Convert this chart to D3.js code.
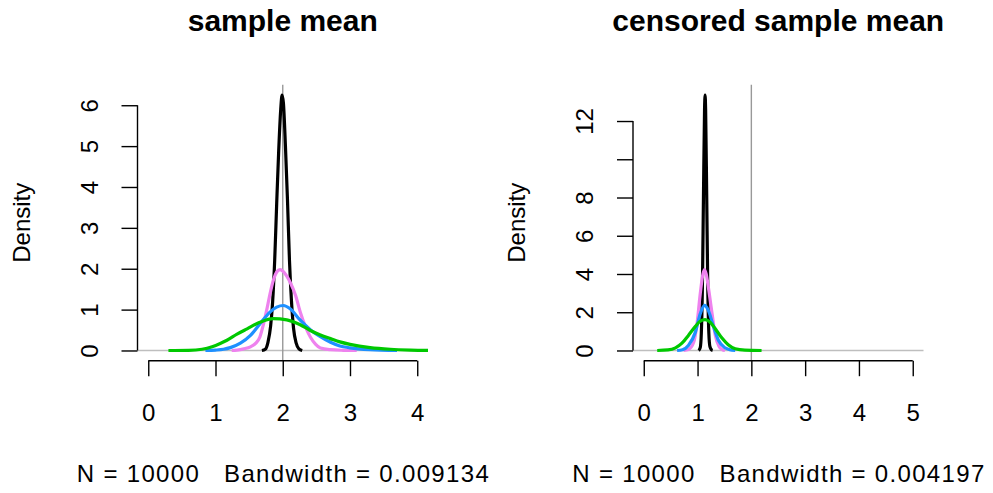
<!DOCTYPE html>
<html>
<head>
<meta charset="utf-8">
<script src="https://cdnjs.cloudflare.com/ajax/libs/d3/7.8.5/d3.min.js"></script>
<style>
body { margin: 0; background: #fff; }
text { font-family: "Liberation Sans", Arial, sans-serif; fill: #000; }
</style>
</head>
<body>
<script>
var titles = ["sample mean", "censored sample mean"];
var subtitles = ["N = 10000   Bandwidth = 0.009134", "N = 10000   Bandwidth = 0.004197"];
var xLimits = [[0, 4], [0, 5]];
var xTicks = [[0, 1, 2, 3, 4], [0, 1, 2, 3, 4, 5]];
var yTicks = [[0, 1, 2, 3, 4, 5, 6], [0, 2, 4, 6, 8, 10, 12]];
var yTickLabels = [["0", "1", "2", "3", "4", "5", "6"], ["0", "2", "4", "6", "8", "", "12"]];
var trueMean = 2;
var seriesColors = ["#000000", "#EE82EE", "#1E90FF", "#00C800"];

// density curves: [x, density]
var meanBlack = [[1.69,0],[1.74,0.03],[1.78,0.2],[1.82,0.6],[1.85,1.2],[1.88,2.2],[1.91,3.6],[1.94,4.9],[1.97,5.9],[1.99,6.25],[2.01,6.05],[2.04,5.0],[2.07,3.7],[2.10,2.2],[2.13,1.2],[2.16,0.55],[2.20,0.18],[2.24,0.04],[2.29,0]];
var meanViolet = [[1.24,0],[1.32,0.01],[1.42,0.04],[1.52,0.09],[1.60,0.18],[1.66,0.33],[1.71,0.62],[1.76,0.98],[1.81,1.38],[1.86,1.72],[1.91,1.92],[1.96,1.98],[2.01,1.93],[2.06,1.82],[2.11,1.67],[2.19,1.35],[2.26,0.94],[2.34,0.57],[2.41,0.33],[2.49,0.15],[2.56,0.06],[2.71,0.02],[2.90,0.005],[3.10,0]];
var meanBlue = [[0.85,0],[1.00,0.01],[1.12,0.03],[1.22,0.07],[1.37,0.18],[1.52,0.37],[1.66,0.65],[1.81,0.94],[1.91,1.06],[2.01,1.10],[2.11,1.02],[2.26,0.74],[2.41,0.51],[2.56,0.34],[2.71,0.20],[2.85,0.11],[3.00,0.065],[3.30,0.02],[3.70,0]];
var meanGreen = [[0.30,0],[0.60,0.005],[0.80,0.03],[0.95,0.09],[1.07,0.17],[1.17,0.25],[1.32,0.40],[1.47,0.53],[1.66,0.69],[1.86,0.78],[2.06,0.75],[2.26,0.63],[2.41,0.49],[2.56,0.38],[2.71,0.29],[2.85,0.21],[3.00,0.15],[3.30,0.07],[3.60,0.03],[3.90,0.01],[4.20,0]];

var censBlack = [[1.02,0],[1.05,0.15],[1.07,0.9],[1.09,3.3],[1.11,8.1],[1.13,12.6],[1.14,13.36],[1.15,12.6],[1.17,8.1],[1.19,3.3],[1.21,0.9],[1.23,0.2],[1.26,0.03],[1.28,0]];
var censViolet = [[0.74,0],[0.83,0.05],[0.93,0.44],[0.99,1.40],[1.05,2.97],[1.10,4.0],[1.13,4.23],[1.16,4.0],[1.20,3.32],[1.27,1.92],[1.33,0.79],[1.40,0.21],[1.46,0.05],[1.51,0]];
var censBlue = [[0.62,0],[0.72,0.04],[0.83,0.26],[0.96,0.96],[1.05,1.92],[1.13,2.36],[1.20,2.10],[1.30,1.22],[1.39,0.52],[1.51,0.14],[1.60,0.04],[1.70,0]];
var censGreen = [[0.25,0],[0.45,0.03],[0.59,0.14],[0.71,0.38],[0.83,0.79],[0.96,1.26],[1.05,1.54],[1.14,1.61],[1.23,1.49],[1.33,1.14],[1.45,0.66],[1.57,0.30],[1.70,0.09],[1.88,0.02],[2.19,0]];

var panelSeries = [[meanBlack, meanViolet, meanBlue, meanGreen], [censBlack, censViolet, censBlue, censGreen]];

var width = 993, height = 493,
    panelLeft = [137.5, 633],
    pw = 290.5,
    plotTop = 84.8,
    plotBottom = 360.7;

var svg = d3.select("body").append("svg")
    .attr("width", width)
    .attr("height", height);

for (var i = 0; i < 2; i++) {
    var left = panelLeft[i];
    var xr = xLimits[i][1] - xLimits[i][0];
    var x = d3.scaleLinear()
        .domain([xLimits[i][0] - 0.04 * xr, xLimits[i][1] + 0.04 * xr])
        .range([left, left + pw]);
    var ymax = d3.max(panelSeries[i], function(s) { return d3.max(s, function(d) { return d[1]; }); });
    var y = d3.scaleLinear()
        .domain([-0.04 * ymax, 1.04 * ymax])
        .range([plotBottom, plotTop]);

    var g = svg.append("g");

    g.append("clipPath").attr("id", "clip" + i)
        .append("rect")
        .attr("x", left).attr("y", plotTop)
        .attr("width", pw).attr("height", plotBottom - plotTop);

    // zero line and true mean
    g.append("line")
        .attr("x1", left).attr("x2", left + pw)
        .attr("y1", y(0)).attr("y2", y(0))
        .attr("stroke", "#BEBEBE").attr("stroke-width", 1.3);
    g.append("line")
        .attr("x1", x(trueMean)).attr("x2", x(trueMean))
        .attr("y1", plotTop).attr("y2", plotBottom)
        .attr("stroke", "#999999").attr("stroke-width", 1.4);

    var line = d3.line()
        .x(function(d) { return x(d[0]); })
        .y(function(d) { return y(d[1]); })
        .curve(d3.curveMonotoneX);

    panelSeries[i].forEach(function(s, k) {
        g.append("path")
            .datum(s)
            .attr("d", line)
            .attr("fill", "none")
            .attr("stroke", seriesColors[k])
            .attr("stroke-width", 3.2)
            .attr("stroke-linejoin", "round")
            .attr("clip-path", "url(#clip" + i + ")");
    });

    // x axis
    var xt = xTicks[i];
    var xa = g.append("g")
        .attr("transform", "translate(0," + plotBottom + ")")
        .call(d3.axisBottom(x).tickValues(xt).tickSize(15.5).tickFormat(d3.format("d")));
    xa.select(".domain").remove();
    xa.append("line")
        .attr("x1", x(xt[0])).attr("x2", x(xt[xt.length - 1]))
        .attr("stroke", "#000").attr("stroke-width", 1.4);
    xa.selectAll(".tick line").attr("stroke", "#000").attr("stroke-width", 1.4);
    xa.selectAll(".tick text")
        .attr("y", 60).attr("dy", 0)
        .attr("font-size", 24);

    // y axis
    var yt = yTicks[i];
    var ya = g.append("g")
        .attr("transform", "translate(" + left + ",0)")
        .call(d3.axisLeft(y).tickValues(yt).tickSize(16)
            .tickFormat(function(d, j) { return yTickLabels[i][j]; }));
    ya.select(".domain").remove();
    ya.append("line")
        .attr("y1", y(yt[0])).attr("y2", y(yt[yt.length - 1]))
        .attr("stroke", "#000").attr("stroke-width", 1.4);
    ya.selectAll(".tick line").attr("stroke", "#000").attr("stroke-width", 1.4);
    ya.selectAll(".tick text")
        .attr("x", 0).attr("y", -40).attr("dy", 0)
        .attr("transform", "rotate(-90)")
        .attr("text-anchor", "middle")
        .attr("font-size", 24);

    // titles and labels
    var cx = left + pw / 2;
    g.append("text")
        .text(titles[i])
        .attr("x", cx).attr("y", 31)
        .attr("text-anchor", "middle")
        .attr("font-size", 30)
        .attr("font-weight", "bold");
    g.append("text")
        .text(subtitles[i])
        .attr("x", cx).attr("y", 482)
        .attr("text-anchor", "middle")
        .attr("font-size", 24)
        .attr("textLength", 412)
        .attr("lengthAdjust", "spacing")
        .style("white-space", "pre");
    g.append("text")
        .text("Density")
        .attr("transform", "translate(" + (left - 108) + "," + ((plotTop + plotBottom) / 2) + ") rotate(-90)")
        .attr("text-anchor", "middle")
        .attr("font-size", 24);
}
</script>
</body>
</html>
